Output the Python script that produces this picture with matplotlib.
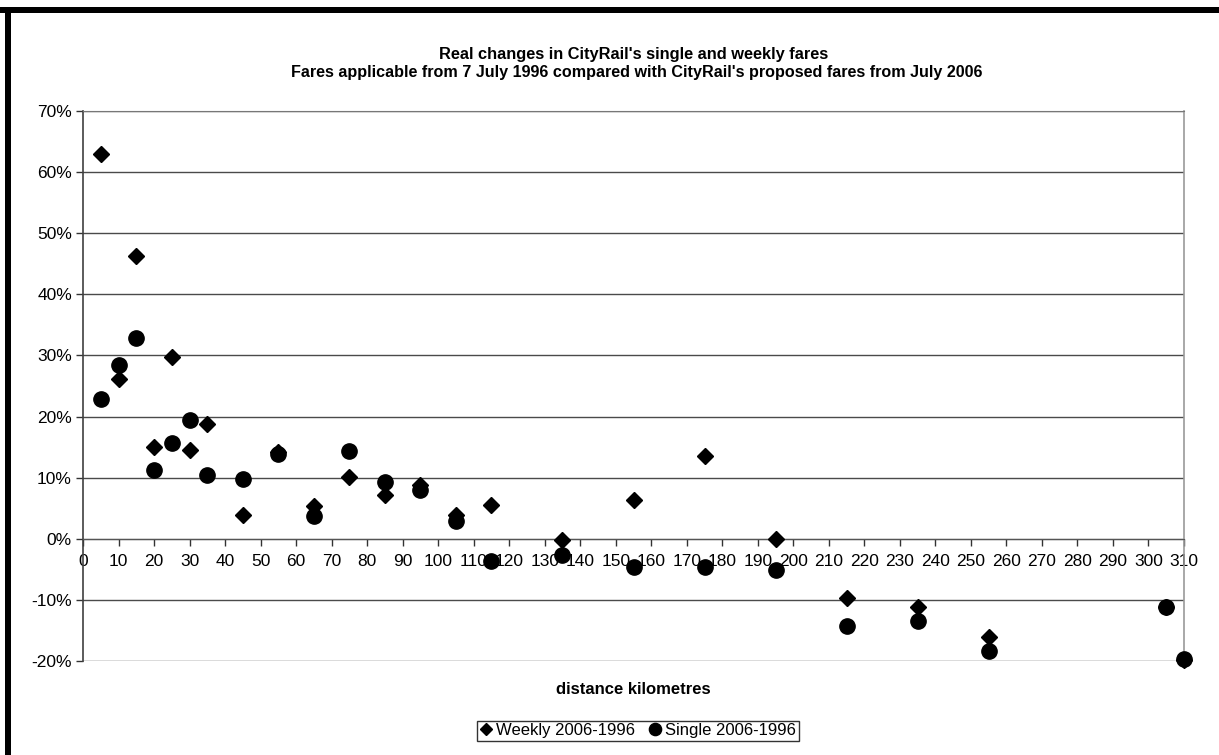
import matplotlib
matplotlib.use("Agg")
import matplotlib.pyplot as plt
from matplotlib.patches import Rectangle
from matplotlib.ticker import FuncFormatter, MultipleLocator

plt.rcParams['font.family'] = ['Liberation Sans', 'DejaVu Sans']

# Data
distance_km = [5, 10, 15, 20, 25, 30, 35, 45, 55, 65, 75, 85, 95, 105, 115,
               135, 155, 175, 195, 215, 235, 255, 305, 310]
weekly_change = [62.9, 26.2, 46.2, 15.0, 29.7, 14.5, 18.7, 3.9, 14.2, 5.4, 10.1, 7.1, 8.8, 3.9, 5.5,
                 -0.2, 6.3, 13.6, 0.0, -9.7, -11.1, -16.1, -11.1, -19.8]
single_change = [22.9, 28.4, 32.9, 11.3, 15.7, 19.5, 10.4, 9.7, 13.8, 3.7, 14.3, 9.3, 8.0, 2.9, -3.7,
                 -2.6, -4.6, -4.6, -5.1, -14.2, -13.5, -18.4, -11.2, -19.7]

title = "Real changes in CityRail's single and weekly fares"
subtitle = "Fares applicable from 7 July 1996 compared with CityRail's proposed fares from July 2006"
x_label = "distance kilometres"
legend_labels = ["Weekly 2006-1996", "Single 2006-1996"]

W, H = 1219, 755
fig = plt.figure(figsize=(W / 100, H / 100), dpi=100)
fig.patch.set_facecolor('white')

# thick black border (top and left)
fig.patches.append(Rectangle((0, 1 - 13 / H), 1, 6 / H, transform=fig.transFigure,
                             facecolor='black', edgecolor='none', zorder=10))
fig.patches.append(Rectangle((5 / W, 0), 6 / W, 1 - 7 / H, transform=fig.transFigure,
                             facecolor='black', edgecolor='none', zorder=10))

left, right, top, bottom = 83, 1184, 111, 661
ax = fig.add_axes([left / W, 1 - bottom / H, (right - left) / W, (bottom - top) / H])

ax.set_xlim(0, 310)
ax.set_ylim(-20, 70)

ax.yaxis.set_major_locator(MultipleLocator(10))
ax.xaxis.set_major_locator(MultipleLocator(10))
ax.yaxis.set_major_formatter(FuncFormatter(lambda v, p: f"{v:.0f}%"))

ax.grid(axis='y', color='#4a4a4a', linewidth=1.0)
ax.set_axisbelow(True)

ax.spines['bottom'].set_position(('data', 0))
ax.spines['bottom'].set_color('#555555')
ax.spines['left'].set_color('#404040')
ax.spines['left'].set_linewidth(1.2)
ax.spines['right'].set_color('#999999')
ax.spines['right'].set_linewidth(1.2)
ax.spines['top'].set_color('#777777')

ax.tick_params(axis='x', direction='out', length=5, width=1, color='#333333',
               labelsize=12.5, pad=6)
ax.tick_params(axis='y', direction='out', length=5, width=1, color='#333333',
               labelsize=12.5, pad=3)

ax.plot(distance_km, weekly_change, linestyle='none', marker='D', markersize=8,
        color='black', clip_on=False, zorder=3, label=legend_labels[0])
ax.plot(distance_km, single_change, linestyle='none', marker='o', markersize=11,
        color='black', clip_on=False, zorder=4, label=legend_labels[1])

fig.text(634 / W, 1 - 55 / H, title, ha='center', va='center', fontsize=11.75, fontweight='bold')
fig.text(637 / W, 1 - 72 / H, subtitle, ha='center', va='center', fontsize=11.6, fontweight='bold')
fig.text(633 / W, 1 - 689 / H, x_label, ha='center', va='center', fontsize=12, fontweight='bold')

leg = fig.legend(loc='center', bbox_to_anchor=(638 / W, 1 - 730.5 / H), ncol=2,
                 frameon=True, fancybox=False, fontsize=12, handlelength=0.8,
                 handletextpad=0.2, columnspacing=0.8, borderpad=0.15,
                 markerscale=0.8)
leg.get_frame().set_edgecolor('black')
leg.get_frame().set_linewidth(1.0)

fig.savefig('out.png', dpi=100)
